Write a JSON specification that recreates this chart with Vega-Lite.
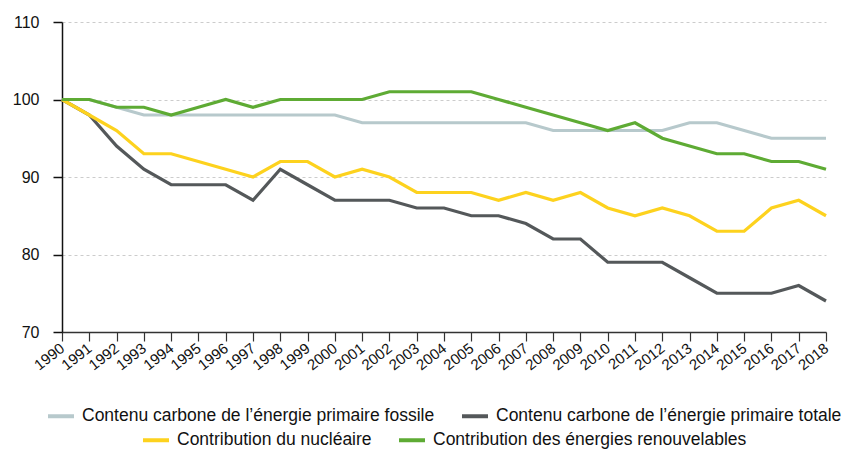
{
  "$schema": "https://vega.github.io/schema/vega-lite/v6.json",
  "width": 764,
  "height": 310,
  "autosize": {"type": "none"},
  "padding": {"left": 62, "top": 22, "right": 38, "bottom": 118},
  "background": "white",
  "config": {
    "font": "Liberation Sans",
    "view": {"stroke": null},
    "legend": {
      "layout": {"bottom": {"anchor": "middle", "direction": "vertical", "center": true, "margin": -10}}
    }
  },
  "data": {
    "values": [
      {"year": 1990, "serie": "Contenu carbone de l’énergie primaire fossile", "value": 100},
      {"year": 1991, "serie": "Contenu carbone de l’énergie primaire fossile", "value": 100},
      {"year": 1992, "serie": "Contenu carbone de l’énergie primaire fossile", "value": 99},
      {"year": 1993, "serie": "Contenu carbone de l’énergie primaire fossile", "value": 98},
      {"year": 1994, "serie": "Contenu carbone de l’énergie primaire fossile", "value": 98},
      {"year": 1995, "serie": "Contenu carbone de l’énergie primaire fossile", "value": 98},
      {"year": 1996, "serie": "Contenu carbone de l’énergie primaire fossile", "value": 98},
      {"year": 1997, "serie": "Contenu carbone de l’énergie primaire fossile", "value": 98},
      {"year": 1998, "serie": "Contenu carbone de l’énergie primaire fossile", "value": 98},
      {"year": 1999, "serie": "Contenu carbone de l’énergie primaire fossile", "value": 98},
      {"year": 2000, "serie": "Contenu carbone de l’énergie primaire fossile", "value": 98},
      {"year": 2001, "serie": "Contenu carbone de l’énergie primaire fossile", "value": 97},
      {"year": 2002, "serie": "Contenu carbone de l’énergie primaire fossile", "value": 97},
      {"year": 2003, "serie": "Contenu carbone de l’énergie primaire fossile", "value": 97},
      {"year": 2004, "serie": "Contenu carbone de l’énergie primaire fossile", "value": 97},
      {"year": 2005, "serie": "Contenu carbone de l’énergie primaire fossile", "value": 97},
      {"year": 2006, "serie": "Contenu carbone de l’énergie primaire fossile", "value": 97},
      {"year": 2007, "serie": "Contenu carbone de l’énergie primaire fossile", "value": 97},
      {"year": 2008, "serie": "Contenu carbone de l’énergie primaire fossile", "value": 96},
      {"year": 2009, "serie": "Contenu carbone de l’énergie primaire fossile", "value": 96},
      {"year": 2010, "serie": "Contenu carbone de l’énergie primaire fossile", "value": 96},
      {"year": 2011, "serie": "Contenu carbone de l’énergie primaire fossile", "value": 96},
      {"year": 2012, "serie": "Contenu carbone de l’énergie primaire fossile", "value": 96},
      {"year": 2013, "serie": "Contenu carbone de l’énergie primaire fossile", "value": 97},
      {"year": 2014, "serie": "Contenu carbone de l’énergie primaire fossile", "value": 97},
      {"year": 2015, "serie": "Contenu carbone de l’énergie primaire fossile", "value": 96},
      {"year": 2016, "serie": "Contenu carbone de l’énergie primaire fossile", "value": 95},
      {"year": 2017, "serie": "Contenu carbone de l’énergie primaire fossile", "value": 95},
      {"year": 2018, "serie": "Contenu carbone de l’énergie primaire fossile", "value": 95},
      {"year": 1990, "serie": "Contenu carbone de l’énergie primaire totale", "value": 100},
      {"year": 1991, "serie": "Contenu carbone de l’énergie primaire totale", "value": 98},
      {"year": 1992, "serie": "Contenu carbone de l’énergie primaire totale", "value": 94},
      {"year": 1993, "serie": "Contenu carbone de l’énergie primaire totale", "value": 91},
      {"year": 1994, "serie": "Contenu carbone de l’énergie primaire totale", "value": 89},
      {"year": 1995, "serie": "Contenu carbone de l’énergie primaire totale", "value": 89},
      {"year": 1996, "serie": "Contenu carbone de l’énergie primaire totale", "value": 89},
      {"year": 1997, "serie": "Contenu carbone de l’énergie primaire totale", "value": 87},
      {"year": 1998, "serie": "Contenu carbone de l’énergie primaire totale", "value": 91},
      {"year": 1999, "serie": "Contenu carbone de l’énergie primaire totale", "value": 89},
      {"year": 2000, "serie": "Contenu carbone de l’énergie primaire totale", "value": 87},
      {"year": 2001, "serie": "Contenu carbone de l’énergie primaire totale", "value": 87},
      {"year": 2002, "serie": "Contenu carbone de l’énergie primaire totale", "value": 87},
      {"year": 2003, "serie": "Contenu carbone de l’énergie primaire totale", "value": 86},
      {"year": 2004, "serie": "Contenu carbone de l’énergie primaire totale", "value": 86},
      {"year": 2005, "serie": "Contenu carbone de l’énergie primaire totale", "value": 85},
      {"year": 2006, "serie": "Contenu carbone de l’énergie primaire totale", "value": 85},
      {"year": 2007, "serie": "Contenu carbone de l’énergie primaire totale", "value": 84},
      {"year": 2008, "serie": "Contenu carbone de l’énergie primaire totale", "value": 82},
      {"year": 2009, "serie": "Contenu carbone de l’énergie primaire totale", "value": 82},
      {"year": 2010, "serie": "Contenu carbone de l’énergie primaire totale", "value": 79},
      {"year": 2011, "serie": "Contenu carbone de l’énergie primaire totale", "value": 79},
      {"year": 2012, "serie": "Contenu carbone de l’énergie primaire totale", "value": 79},
      {"year": 2013, "serie": "Contenu carbone de l’énergie primaire totale", "value": 77},
      {"year": 2014, "serie": "Contenu carbone de l’énergie primaire totale", "value": 75},
      {"year": 2015, "serie": "Contenu carbone de l’énergie primaire totale", "value": 75},
      {"year": 2016, "serie": "Contenu carbone de l’énergie primaire totale", "value": 75},
      {"year": 2017, "serie": "Contenu carbone de l’énergie primaire totale", "value": 76},
      {"year": 2018, "serie": "Contenu carbone de l’énergie primaire totale", "value": 74},
      {"year": 1990, "serie": "Contribution du nucléaire", "value": 100},
      {"year": 1991, "serie": "Contribution du nucléaire", "value": 98},
      {"year": 1992, "serie": "Contribution du nucléaire", "value": 96},
      {"year": 1993, "serie": "Contribution du nucléaire", "value": 93},
      {"year": 1994, "serie": "Contribution du nucléaire", "value": 93},
      {"year": 1995, "serie": "Contribution du nucléaire", "value": 92},
      {"year": 1996, "serie": "Contribution du nucléaire", "value": 91},
      {"year": 1997, "serie": "Contribution du nucléaire", "value": 90},
      {"year": 1998, "serie": "Contribution du nucléaire", "value": 92},
      {"year": 1999, "serie": "Contribution du nucléaire", "value": 92},
      {"year": 2000, "serie": "Contribution du nucléaire", "value": 90},
      {"year": 2001, "serie": "Contribution du nucléaire", "value": 91},
      {"year": 2002, "serie": "Contribution du nucléaire", "value": 90},
      {"year": 2003, "serie": "Contribution du nucléaire", "value": 88},
      {"year": 2004, "serie": "Contribution du nucléaire", "value": 88},
      {"year": 2005, "serie": "Contribution du nucléaire", "value": 88},
      {"year": 2006, "serie": "Contribution du nucléaire", "value": 87},
      {"year": 2007, "serie": "Contribution du nucléaire", "value": 88},
      {"year": 2008, "serie": "Contribution du nucléaire", "value": 87},
      {"year": 2009, "serie": "Contribution du nucléaire", "value": 88},
      {"year": 2010, "serie": "Contribution du nucléaire", "value": 86},
      {"year": 2011, "serie": "Contribution du nucléaire", "value": 85},
      {"year": 2012, "serie": "Contribution du nucléaire", "value": 86},
      {"year": 2013, "serie": "Contribution du nucléaire", "value": 85},
      {"year": 2014, "serie": "Contribution du nucléaire", "value": 83},
      {"year": 2015, "serie": "Contribution du nucléaire", "value": 83},
      {"year": 2016, "serie": "Contribution du nucléaire", "value": 86},
      {"year": 2017, "serie": "Contribution du nucléaire", "value": 87},
      {"year": 2018, "serie": "Contribution du nucléaire", "value": 85},
      {"year": 1990, "serie": "Contribution des énergies renouvelables", "value": 100},
      {"year": 1991, "serie": "Contribution des énergies renouvelables", "value": 100},
      {"year": 1992, "serie": "Contribution des énergies renouvelables", "value": 99},
      {"year": 1993, "serie": "Contribution des énergies renouvelables", "value": 99},
      {"year": 1994, "serie": "Contribution des énergies renouvelables", "value": 98},
      {"year": 1995, "serie": "Contribution des énergies renouvelables", "value": 99},
      {"year": 1996, "serie": "Contribution des énergies renouvelables", "value": 100},
      {"year": 1997, "serie": "Contribution des énergies renouvelables", "value": 99},
      {"year": 1998, "serie": "Contribution des énergies renouvelables", "value": 100},
      {"year": 1999, "serie": "Contribution des énergies renouvelables", "value": 100},
      {"year": 2000, "serie": "Contribution des énergies renouvelables", "value": 100},
      {"year": 2001, "serie": "Contribution des énergies renouvelables", "value": 100},
      {"year": 2002, "serie": "Contribution des énergies renouvelables", "value": 101},
      {"year": 2003, "serie": "Contribution des énergies renouvelables", "value": 101},
      {"year": 2004, "serie": "Contribution des énergies renouvelables", "value": 101},
      {"year": 2005, "serie": "Contribution des énergies renouvelables", "value": 101},
      {"year": 2006, "serie": "Contribution des énergies renouvelables", "value": 100},
      {"year": 2007, "serie": "Contribution des énergies renouvelables", "value": 99},
      {"year": 2008, "serie": "Contribution des énergies renouvelables", "value": 98},
      {"year": 2009, "serie": "Contribution des énergies renouvelables", "value": 97},
      {"year": 2010, "serie": "Contribution des énergies renouvelables", "value": 96},
      {"year": 2011, "serie": "Contribution des énergies renouvelables", "value": 97},
      {"year": 2012, "serie": "Contribution des énergies renouvelables", "value": 95},
      {"year": 2013, "serie": "Contribution des énergies renouvelables", "value": 94},
      {"year": 2014, "serie": "Contribution des énergies renouvelables", "value": 93},
      {"year": 2015, "serie": "Contribution des énergies renouvelables", "value": 93},
      {"year": 2016, "serie": "Contribution des énergies renouvelables", "value": 92},
      {"year": 2017, "serie": "Contribution des énergies renouvelables", "value": 92},
      {"year": 2018, "serie": "Contribution des énergies renouvelables", "value": 91}
    ]
  },
  "encoding": {
    "x": {
      "field": "year",
      "type": "quantitative",
      "scale": {"domain": [1990, 2018], "nice": false, "zero": false},
      "axis": {
        "title": null,
        "grid": false,
        "values": [1990, 1991, 1992, 1993, 1994, 1995, 1996, 1997, 1998, 1999, 2000, 2001, 2002, 2003, 2004, 2005, 2006, 2007, 2008, 2009, 2010, 2011, 2012, 2013, 2014, 2015, 2016, 2017, 2018],
        "format": "d",
        "labelAngle": -38,
        "labelAlign": "right",
        "labelBaseline": "middle",
        "labelFontSize": 15,
        "labelColor": "#111111",
        "labelPadding": 5,
        "labelOverlap": false,
        "labelFlush": false,
        "tickSize": 9,
        "tickColor": "#333333",
        "domainColor": "#333333",
        "domainWidth": 1.5,
        "tickWidth": 1.2
      }
    },
    "y": {
      "field": "value",
      "type": "quantitative",
      "scale": {"domain": [70, 110], "nice": false, "zero": false},
      "axis": {
        "title": null,
        "values": [70, 80, 90, 100, 110],
        "grid": true,
        "gridDash": [3, 3],
        "gridColor": "#cccccc",
        "gridWidth": 1,
        "labelFontSize": 16,
        "labelColor": "#111111",
        "labelPadding": 14,
        "tickSize": 9,
        "tickColor": "#111111",
        "domainColor": "#111111",
        "domainWidth": 1.5,
        "tickWidth": 1.5
      }
    }
  },
  "layer": [
    {
      "transform": [{"filter": "datum.serie === 'Contenu carbone de l’énergie primaire fossile' || datum.serie === 'Contenu carbone de l’énergie primaire totale'"}],
      "mark": {"type": "line", "strokeWidth": 3.2},
      "encoding": {
        "stroke": {
          "field": "serie",
          "type": "nominal",
          "scale": {"domain": ["Contenu carbone de l’énergie primaire fossile", "Contenu carbone de l’énergie primaire totale"], "range": ["#b7c9cc", "#54585a"]},
          "legend": {
            "orient": "bottom",
            "direction": "horizontal",
            "title": null,
            "labelFontSize": 17.5,
            "labelColor": "#111111",
            "labelLimit": 500,
            "symbolSize": 676,
            "symbolStrokeWidth": 4,
            "columnPadding": 19,
            "labelOffset": 6,
            "offset": 28
          }
        }
      }
    },
    {
      "transform": [{"filter": "datum.serie === 'Contribution du nucléaire' || datum.serie === 'Contribution des énergies renouvelables'"}],
      "mark": {"type": "line", "strokeWidth": 3.2},
      "encoding": {
        "color": {
          "field": "serie",
          "type": "nominal",
          "scale": {"domain": ["Contribution du nucléaire", "Contribution des énergies renouvelables"], "range": ["#fdd21e", "#5eab34"]},
          "legend": {
            "orient": "bottom",
            "direction": "horizontal",
            "title": null,
            "labelFontSize": 17.5,
            "labelColor": "#111111",
            "labelLimit": 500,
            "symbolSize": 676,
            "symbolStrokeWidth": 4,
            "columnPadding": 19,
            "labelOffset": 6,
            "offset": 28
          }
        }
      }
    }
  ]
}
